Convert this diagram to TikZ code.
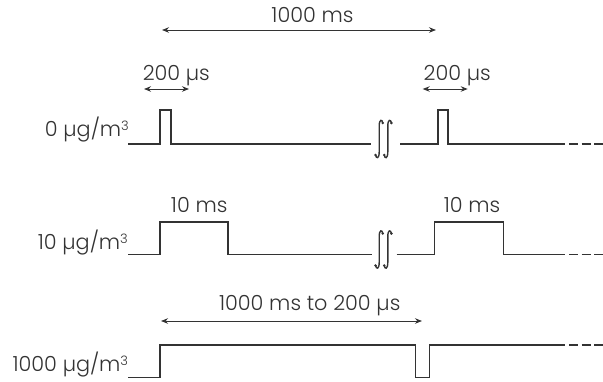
\documentclass[tikz,border=0pt]{standalone}
\usepackage{fontspec}
\IfFontExistsTF{Poppins Light}{\setmainfont{Poppins Light}}{\setmainfont{Poppins}}
\usetikzlibrary{arrows.meta}
\definecolor{ink}{HTML}{333333}
\newcommand{\cubed}{\raisebox{6pt}{\fontsize{13}{13}\selectfont 3}}
\begin{document}
\begin{tikzpicture}[x=1pt,y=-1pt,
  font=\fontsize{20.8}{24}\selectfont, text=ink,
  sig/.style={draw=ink, line width=1.2pt, line join=miter},
  tailline/.style={draw=ink, line width=1.2pt, dash pattern=on 9pt off 3.5pt},
  dim/.style={draw=ink, line width=0.9pt, {Stealth[length=7pt,width=5.5pt]}-{Stealth[length=7pt,width=5.5pt]}},
  lbl/.style={inner sep=0pt, anchor=base},
  rlbl/.style={inner sep=0pt, anchor=base east},
  brk/.pic={
    \foreach \cx in {-4.3,4.3}{
      \draw[draw=ink, line width=1.4pt] (\cx+3.6,-16) .. controls (\cx+3,-20) and (\cx,-20) .. (\cx,-13)
        -- (\cx,13) .. controls (\cx,20) and (\cx-3,20) .. (\cx-3.6,16);
      \fill[ink] (\cx+3.6,-16) circle (1.4pt) (\cx-3.6,16) circle (1.4pt);
    }
  }]
\useasboundingbox (0,0) rectangle (603,381);

% labels
\node[lbl] (l1000) at (312.5,22.7) {1000 ms};
\node[lbl] (l200a) at (176.3,80) {200 µs};
\node[lbl] (l200b) at (457.2,80) {200 µs};
\node[rlbl] (lc0) at (129,136.7) {0 µg/m\cubed};
\node[lbl] (l10a) at (199.2,212.7) {10 ms};
\node[lbl] (l10b) at (472,212.7) {10 ms};
\node[rlbl] (lc10) at (128,249.3) {10 µg/m\cubed};
\node[lbl] (lrange) at (309.7,310.5) {1000 ms to 200 µs};
\node[rlbl] (lc1000) at (128.3,371) {1000 µg/m\cubed};

% dimension arrows
\coordinate (a1s) at (162,30);  \coordinate (a1e) at (436,30);
\coordinate (a2s) at (144,89);  \coordinate (a2e) at (189,89);
\coordinate (a3s) at (422.7,89); \coordinate (a3e) at (467.7,89);
\coordinate (a4s) at (161,321); \coordinate (a4e) at (422,321);
\draw[dim] (a1s) -- (a1e);
\draw[dim] (a2s) -- (a2e);
\draw[dim] (a3s) -- (a3e);
\draw[dim] (a4s) -- (a4e);

% row 1
\coordinate (r1a) at (128,144); \coordinate (r1b) at (371,144);
\coordinate (r1c) at (400,144); \coordinate (r1d) at (565,144);
\coordinate (r1e) at (569,144); \coordinate (r1f) at (603,144);
\draw[sig] (r1a) -- (160,144) -- (160,110) -- (171,110) -- (171,144) -- (r1b);
\draw[sig] (r1c) -- (438,144) -- (438,110) -- (448,110) -- (448,144) -- (r1d);
\draw[tailline] (r1e) -- (r1f);
\pic at (383.5,139) {brk};

% row 2
\coordinate (r2a) at (128,254.3); \coordinate (r2b) at (371.5,254.3);
\coordinate (r2c) at (396.5,254.3); \coordinate (r2d) at (565,254.3);
\coordinate (r2e) at (569,254.3); \coordinate (r2f) at (603,254.3);
\draw[sig] (r2a) -- (160,254.3) -- (160,222) -- (228,222) -- (228,254.3) -- (r2b);
\draw[sig] (r2c) -- (434.7,254.3) -- (434.7,222) -- (503.3,222) -- (503.3,254.3) -- (r2d);
\draw[tailline] (r2e) -- (r2f);
\pic at (383.5,249.5) {brk};

% row 3
\coordinate (r3a) at (128,377.7); \coordinate (r3d) at (565,345);
\coordinate (r3e) at (569,345); \coordinate (r3f) at (603,345);
\draw[sig] (r3a) -- (160,377.7) -- (160,345) -- (415.7,345) -- (415.7,377.7) -- (429.3,377.7) -- (429.3,345) -- (r3d);
\draw[tailline] (r3e) -- (r3f);
\end{tikzpicture}
\end{document}
